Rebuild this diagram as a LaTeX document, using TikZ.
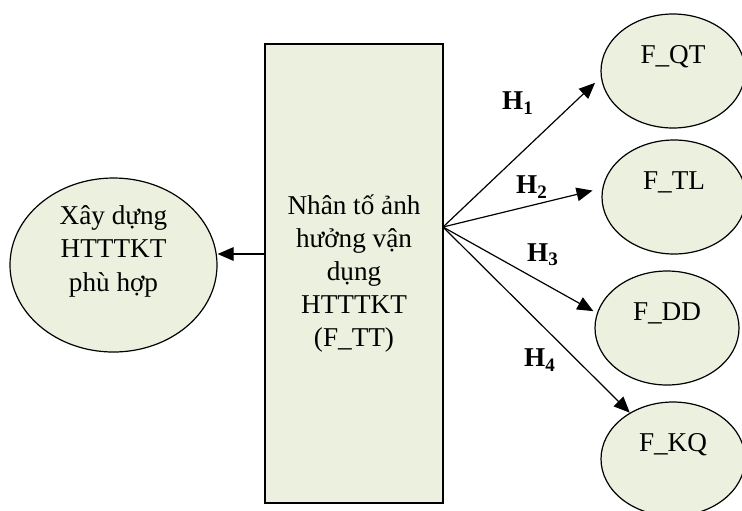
\documentclass[tikz,border=0pt]{standalone}
\usepackage{fontspec}
\setmainfont{Liberation Serif}
\usetikzlibrary{shapes.geometric,arrows.meta}
\definecolor{boxfill}{RGB}{235,241,222}

\begin{document}
\begin{tikzpicture}[x=0.5pt, y=-0.5pt,
    every node/.style={font=\fontsize{13.6}{16.6}\selectfont},
    shapebox/.style={draw, fill=boxfill, line width=0.6pt, align=center},
    factor/.style={shapebox, ellipse, minimum width=72pt, minimum height=57pt, inner sep=0pt},
    link/.style={-{Triangle[length=8pt,width=6.8pt]}, line width=0.6pt},
    hyp/.style={font=\fontsize{13.6}{16}\selectfont\bfseries}]
    \useasboundingbox (0,0) rectangle (742,510);

    % Draw the left circle: the outcome
    \node[shapebox, ellipse, minimum width=103.5pt, minimum height=87pt, inner sep=0pt] (xd) at (113.5,265) {Xây dựng\\HTTTKT\\phù hợp\\\mbox{}};

    % Draw the middle box: the influencing factor
    \node[shapebox, minimum width=89pt, minimum height=229.5pt, inner sep=0pt] (tt) at (354,273.5) {Nhân tố ảnh\\hưởng vận\\dụng\\HTTTKT\\(F\_TT)};

    % Draw the arrow back to the circle
    \coordinate (back) at (265,254);
    \draw[link] (back) -- (back -| xd.east);

    % Draw the four factor ellipses on the right
    \node[factor] (qt) at (673,71) {F\_QT\\\mbox{}};
    \node[factor] (tl) at (674,197) {F\_TL\\\mbox{}};
    \node[factor] (dd) at (667,328) {F\_DD\\\mbox{}};
    \node[factor] (kq) at (673,459) {F\_KQ\\\mbox{}};

    % Draw the hypothesis arrows from one point of the box
    \coordinate (src) at (443,227);
    \draw[link, shorten >=4pt] (src) -- (qt.185);
    \draw[link, shorten >=5pt] (src) -- (tl.173);
    \draw[link, shorten >=2pt] (src) -- (dd.168);
    \draw[link] (src) -- (kq.133);

    % Put the hypothesis labels
    \node[hyp] (h1) at (518,103) {H\textsubscript{1}};
    \node[hyp] (h2) at (532,187) {H\textsubscript{2}};
    \node[hyp] (h3) at (543,255) {H\textsubscript{3}};
    \node[hyp] (h4) at (540,360) {H\textsubscript{4}};

\end{tikzpicture}
\end{document}
